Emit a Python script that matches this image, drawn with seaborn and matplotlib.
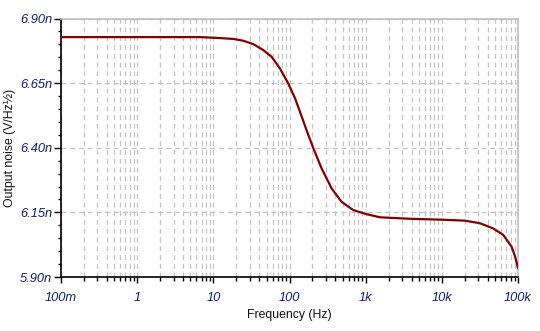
import numpy as np
import pandas as pd
import matplotlib
matplotlib.use("Agg")
import matplotlib.pyplot as plt
import seaborn as sns
from matplotlib.ticker import FixedLocator, LogLocator, NullFormatter

# Data (frequency in Hz, noise in nV/rtHz)
freq = [0.1, 1, 6.67, 11, 18.3, 24.7, 33.4, 45.2, 58.2, 74.8, 96.2, 118,
        137, 167, 205, 264, 357, 482, 685, 1028, 1535, 2080, 4000, 9420,
        20000, 31600, 47200, 63900, 82200, 90800, 100000]
noise = [6.828, 6.828, 6.828, 6.825, 6.821, 6.814, 6.801, 6.778, 6.752,
         6.707, 6.649, 6.592, 6.540, 6.469, 6.399, 6.320, 6.243, 6.191,
         6.159, 6.143, 6.131, 6.129, 6.125, 6.122, 6.118, 6.108, 6.088,
         6.063, 6.018, 5.983, 5.934]

x_ticks = [0.1, 1, 10, 100, 1000, 10000, 100000]
x_labels = ["100m", "1", "10", "100", "1k", "10k", "100k"]
y_ticks = [5.90, 6.15, 6.40, 6.65, 6.90]
y_labels = ["5.90n", "6.15n", "6.40n", "6.65n", "6.90n"]

df = pd.DataFrame({"freq": freq, "noise": noise})

sns.set_theme(style="white")
plt.rcParams["font.family"] = ["Liberation Sans", "DejaVu Sans"]

fig = plt.figure(figsize=(5.40, 3.31), dpi=100)
ax = fig.add_axes([61/540, 1-277/331, (518-61)/540, (277-18.5)/331])

sns.lineplot(data=df, x="freq", y="noise", ax=ax, color="#800000",
             linewidth=1.6, zorder=3)
ax.lines[0].set_solid_joinstyle("round")

ax.set_xscale("log")
ax.set_xlim(0.1, 100000)
ax.set_ylim(5.90, 6.90)

ax.xaxis.set_major_locator(FixedLocator(x_ticks))
ax.set_xticklabels(x_labels)
ax.xaxis.set_minor_locator(LogLocator(base=10, subs=np.arange(2, 10), numticks=100))
ax.xaxis.set_minor_formatter(NullFormatter())

ax.yaxis.set_major_locator(FixedLocator(y_ticks))
ax.set_yticklabels(y_labels)
ax.yaxis.set_minor_locator(FixedLocator(np.arange(5.90, 6.901, 0.05)))

tick_color = "#0d1f6b"
for lab in ax.get_xticklabels() + ax.get_yticklabels():
    lab.set_fontstyle("italic")
    lab.set_color(tick_color)
    lab.set_fontsize(9.3)

ax.tick_params(axis="x", which="major", direction="out", length=4.5, width=1,
               color="black", pad=6, bottom=True)
ax.tick_params(axis="x", which="minor", direction="out", length=3, width=1,
               color="black", bottom=True)
ax.tick_params(axis="y", which="major", direction="out", length=5, width=1,
               color="black", pad=1.5, left=True)
ax.tick_params(axis="y", which="minor", direction="out", length=2.5, width=1,
               color="black", left=True)

ax.grid(True, which="major", axis="both", color="#c4c4c4", linestyle=(0, (4, 3)),
        linewidth=0.9)
ax.grid(True, which="minor", axis="x", color="#c4c4c4", linestyle=(0, (4, 3)),
        linewidth=0.9)

for side in ["left", "bottom"]:
    ax.spines[side].set_color("black")
    ax.spines[side].set_linewidth(1.2)
for side in ["top", "right"]:
    ax.spines[side].set_color("#bdbdbd")
    ax.spines[side].set_linewidth(1.2)

ax.set_xlabel("Frequency (Hz)", fontsize=8.8, color="#111111", labelpad=4)
ax.set_ylabel("Output noise (V/Hz½)", fontsize=8.8, color="#111111", labelpad=3)

fig.savefig("out.png", dpi=100)
